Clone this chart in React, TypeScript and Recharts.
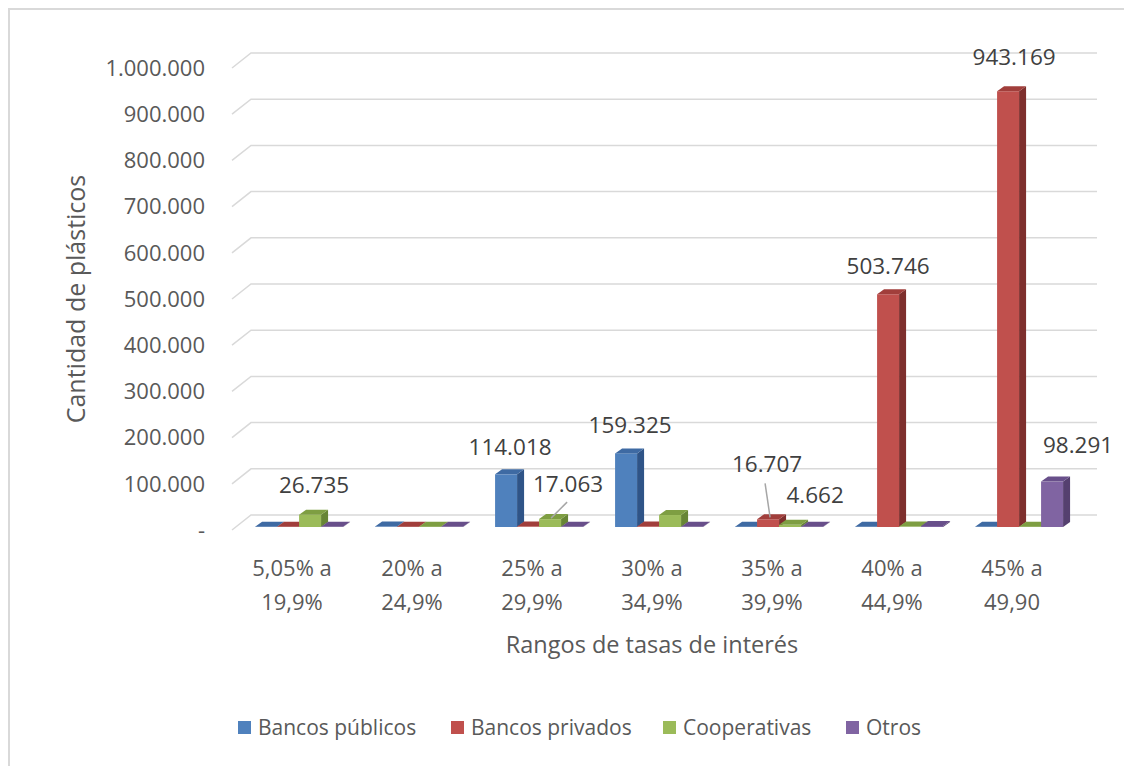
import React from "react"
import { Bar, BarChart, CartesianGrid, LabelList, XAxis, YAxis } from "recharts"

const categories = [
  "5,05% a|19,9%",
  "20% a|24,9%",
  "25% a|29,9%",
  "30% a|34,9%",
  "35% a|39,9%",
  "40% a|44,9%",
  "45% a|49,90",
]
const bancosPublicos = [400, 900, 114018, 159325, 700, 400, 300]
const bancosPrivados = [600, 700, 900, 1100, 16707, 503746, 943169]
const cooperativas = [26735, 800, 17063, 25900, 4662, 900, 800]
const otros = [500, 300, 400, 500, 700, 2200, 98291]
const yTicks = [0, 100000, 200000, 300000, 400000, 500000, 600000, 700000, 800000, 900000, 1000000]

const series = [
  { key: "publicos", name: "Bancos públicos", front: "#4F81BD", top: "#3E6AA3", side: "#2F5487" },
  { key: "privados", name: "Bancos privados", front: "#C0504D", top: "#A13E3B", side: "#7E2F2D" },
  { key: "cooperativas", name: "Cooperativas", front: "#9BBB59", top: "#7E9E42", side: "#678535" },
  { key: "otros", name: "Otros", front: "#8064A2", top: "#684F8A", side: "#55406F" },
]

// legend square positions, relative to the bordered box
const legendLeft = [228, 441, 653, 836]

// which data labels are shown, and where (relative to bar centre / top)
const labelPlacement: Record<string, { dx: number; dy: number; leader?: number[] }> = {
  "cooperativas-0": { dx: 4, dy: -30 },
  "publicos-2": { dx: 4, dy: -28 },
  "cooperativas-2": { dx: 18, dy: -36, leader: [1, -1, 17, -17] },
  "publicos-3": { dx: 4, dy: -29 },
  "privados-4": { dx: -1, dy: -56, leader: [-3, -36, 2, -2] },
  "cooperativas-4": { dx: 25, dy: -30 },
  "privados-5": { dx: 0, dy: -29 },
  "privados-6": { dx: 6, dy: -35 },
  "otros-6": { dx: 26, dy: -37 },
}

const data = categories.map((name, i) => ({
  name,
  publicos: bancosPublicos[i],
  privados: bancosPrivados[i],
  cooperativas: cooperativas[i],
  otros: otros[i],
}))

const FONT = "'Open Sans', sans-serif"
const DEPTH_X = 7
const DEPTH_Y = 5
const SHIFT_X = 7
const SHIFT_Y = -3

function fmt(v: number) {
  if (v === 0) return "-"
  return String(Math.round(v)).replace(/\B(?=(\d{3})+(?!\d))/g, ".")
}

function makeBox(s: (typeof series)[number]) {
  return (props: any) => {
    const x = props.x + SHIFT_X
    const y = props.y + SHIFT_Y
    const w = props.width
    const h = Math.max(props.height, 0)
    return (
      <g>
        <rect x={x} y={y} width={w} height={h} fill={s.front} />
        <path
          d={`M${x + w},${y} L${x + w + DEPTH_X},${y - DEPTH_Y} L${x + w + DEPTH_X},${y + h - DEPTH_Y} L${x + w},${y + h} Z`}
          fill={s.side}
        />
        <path
          d={`M${x},${y} L${x + DEPTH_X},${y - DEPTH_Y} L${x + w + DEPTH_X},${y - DEPTH_Y} L${x + w},${y} Z`}
          fill={s.top}
        />
      </g>
    )
  }
}

function makeLabel(key: string) {
  return (props: any) => {
    const place = labelPlacement[`${key}-${props.index}`]
    if (!place) return null
    const cx = props.x + SHIFT_X + props.width / 2
    const top = props.y + SHIFT_Y
    const l = place.leader
    return (
      <g>
        {l && (
          <line x1={cx + l[0]} y1={top + l[1]} x2={cx + l[2]} y2={top + l[3]} stroke="#a6a6a6" strokeWidth={1.5} />
        )}
        <text
          x={cx + place.dx}
          y={top + place.dy}
          textAnchor="middle"
          dominantBaseline="central"
          fontFamily={FONT}
          fontSize={22.5}
          fill="#404040"
        >
          {fmt(props.value)}
        </text>
      </g>
    )
  }
}

function CategoryTick(props: any) {
  const [a, b] = String(props.payload.value).split("|")
  return (
    <g>
      <text x={props.x} y={props.y + 37} textAnchor="middle" dominantBaseline="central" fontFamily={FONT} fontSize={22} fill="#595959">
        {a}
      </text>
      <text x={props.x} y={props.y + 71} textAnchor="middle" dominantBaseline="central" fontFamily={FONT} fontSize={22} fill="#595959">
        {b}
      </text>
    </g>
  )
}

function GridLine(props: any) {
  const { x1, x2, y1 } = props
  return (
    <path
      key={props.key ?? `g-${y1}`}
      d={`M${x1},${y1} L${x1 + 19},${y1 - 15} L${x2 + 25},${y1 - 15}`}
      fill="none"
      stroke="#d9d9d9"
      strokeWidth={1.5}
    />
  )
}

export default function App() {
  return (
    <div
      style={{
        position: "relative",
        width: 1124,
        height: 758,
        borderLeft: "2px solid #d9d9d9",
        borderTop: "2px solid #d9d9d9",
        boxSizing: "border-box",
        background: "#fff",
      }}
    >
      <BarChart
        width={1122}
        height={756}
        data={data}
        margin={{ top: 58, right: 60, bottom: 136, left: 0 }}
        barCategoryGap="13.4%"
        barGap={0}
      >
        <CartesianGrid vertical={false} horizontal={GridLine as any} />
        <XAxis
          dataKey="name"
          axisLine={false}
          tickLine={false}
          tickSize={0}
          tickMargin={0}
          height={100}
          tick={<CategoryTick />}
          interval={0}
        />
        <YAxis
          width={222}
          domain={[0, 1000000]}
          ticks={yTicks}
          tickFormatter={fmt}
          axisLine={false}
          tickLine={false}
          tickSize={0}
          tickMargin={27}
          tick={{ fontFamily: FONT, fontSize: 22, fill: "#595959" }}
          interval={0}
        />
        {series.map((s) => (
          <Bar key={s.key} dataKey={s.key} name={s.name} shape={makeBox(s)} isAnimationActive={false}>
            <LabelList dataKey={s.key} content={makeLabel(s.key)} />
          </Bar>
        ))}
        <text
          x={65}
          y={289}
          transform="rotate(-90 65 289)"
          textAnchor="middle"
          dominantBaseline="central"
          fontFamily={FONT}
          fontSize={25}
          fill="#595959"
        >
          Cantidad de plásticos
        </text>
        <text x={642} y={634} textAnchor="middle" dominantBaseline="central" fontFamily={FONT} fontSize={23.5} fill="#595959">
          Rangos de tasas de interés
        </text>
      </BarChart>
      {series.map((s, i) => (
        <div
          key={s.key}
          style={{
            position: "absolute",
            left: legendLeft[i],
            top: 703,
            display: "flex",
            alignItems: "center",
            fontFamily: FONT,
            fontSize: 21,
            color: "#595959",
            whiteSpace: "nowrap",
          }}
        >
          <span style={{ display: "inline-block", width: 13, height: 13, background: s.front, marginRight: 7 }} />
          <span>{s.name}</span>
        </div>
      ))}
    </div>
  )
}
